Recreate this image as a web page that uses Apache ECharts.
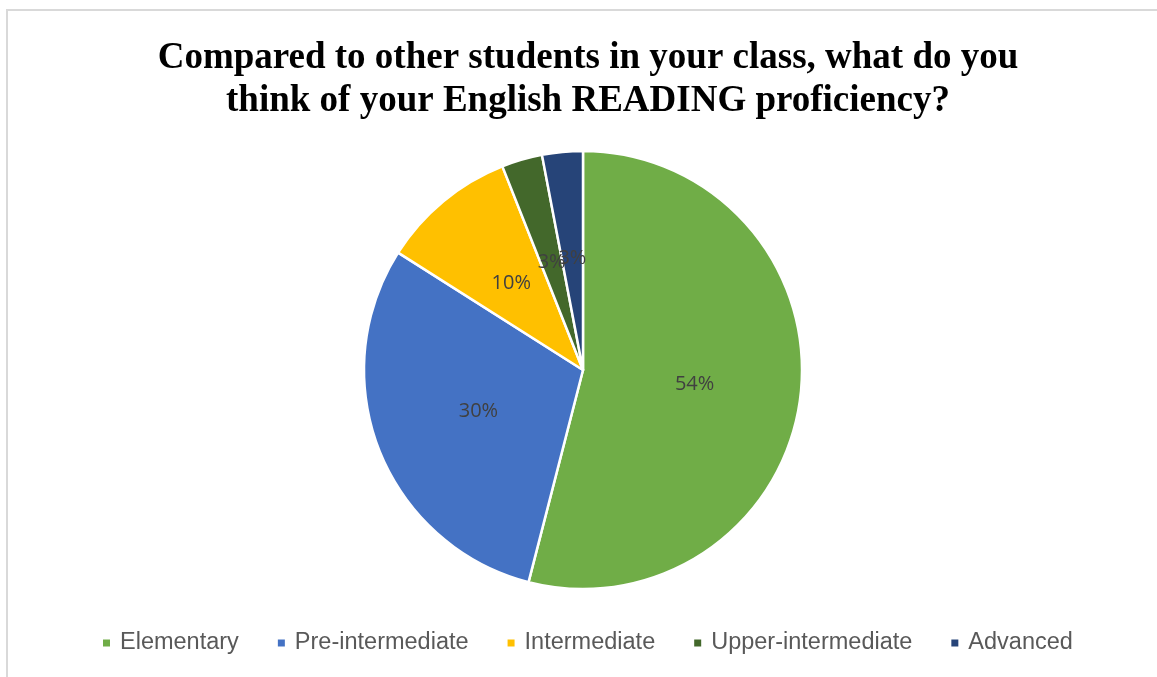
<!DOCTYPE html>
<html>
<head>
<meta charset="utf-8">
<script src="https://cdn.jsdelivr.net/npm/echarts@6/dist/echarts.min.js"></script>
<style>
  html, body { margin: 0; padding: 0; background: #fff; }
  #chart { width: 1157px; height: 677px; }
</style>
</head>
<body>
<div id="chart"></div>
<script>
// Self-assessed English reading proficiency (percent of respondents)
const categories = ['Elementary', 'Pre-intermediate', 'Intermediate', 'Upper-intermediate', 'Advanced'];
const values = [54, 30, 10, 3, 3];
const colors = ['#70AD47', '#4472C4', '#FFC000', '#43682B', '#264478'];
const titleLines = [
  'Compared to other students in your class, what do you',
  'think of your English READING proficiency?'
];

const chart = echarts.init(document.getElementById('chart'), null, { renderer: 'canvas' });

chart.setOption({
  animation: false,
  backgroundColor: '#ffffff',
  color: colors,
  graphic: [{
    type: 'rect',
    shape: { x: 7, y: 10, width: 1300, height: 800 },
    style: { fill: 'none', stroke: '#d9d9d9', lineWidth: 2 },
    silent: true,
    z: -10
  }],
  title: {
    text: titleLines.join('\n'),
    left: 583,
    top: 32,
    textAlign: 'center',
    textStyle: {
      fontFamily: '"Liberation Serif", "Times New Roman", serif',
      fontWeight: 'bold',
      fontSize: 37,
      lineHeight: 43,
      color: '#000000'
    }
  },
  legend: {
    data: categories,
    left: 101,
    top: 631,
    padding: 0,
    icon: 'rect',
    itemWidth: 9,
    itemHeight: 9,
    itemGap: 37,
    textStyle: {
      fontFamily: '"Liberation Sans", Arial, sans-serif',
      fontSize: 23.5,
      color: '#595959',
      padding: [0, 0, 0, 4]
    }
  },
  series: [{
    type: 'pie',
    center: [583, 370],
    radius: 219,
    startAngle: 90,
    clockwise: true,
    avoidLabelOverlap: false,
    labelLayout: { hideOverlap: false },
    itemStyle: { borderColor: '#ffffff', borderWidth: 2.5 },
    label: {
      show: true,
      position: 'inside',
      formatter: '{c}%',
      fontFamily: '"Open Sans", "Noto Sans", sans-serif',
      fontSize: 20,
      color: '#404040'
    },
    labelLine: { show: false },
    emphasis: { disabled: true },
    data: categories.map((name, i) => ({ name, value: values[i] }))
  }]
});
</script>
</body>
</html>
